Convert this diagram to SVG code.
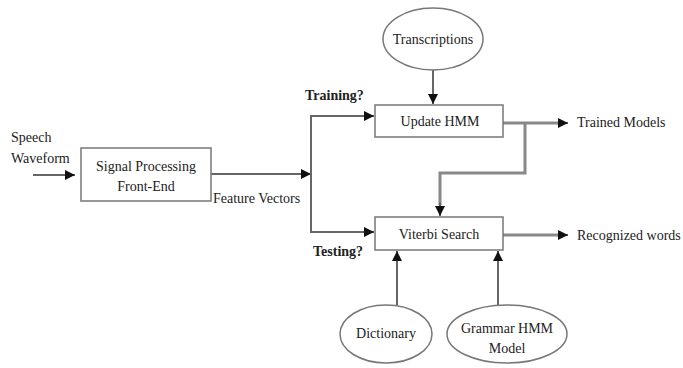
<svg xmlns="http://www.w3.org/2000/svg" width="683" height="368" viewBox="0 0 683 368">
<defs>
<style>
text{font-family:"Liberation Serif","Times New Roman",serif;font-size:14px;fill:#222}
.b{font-weight:bold}
.box{fill:#fff;stroke:#777;stroke-width:1.5}
.ln{fill:none;stroke:#666;stroke-width:2}
.thk{fill:none;stroke:#888;stroke-width:3}
</style>
<marker id="ah" viewBox="0 0 10 10" refX="10" refY="5" markerWidth="10" markerHeight="10" markerUnits="userSpaceOnUse" orient="auto"><path d="M0,0 L10,5 L0,10 z" fill="#111"/></marker>
</defs>
<rect width="683" height="368" fill="#fff"/>
<g id="connectors">
<path class="ln" d="M33,175 H75" marker-end="url(#ah)"/>
<path class="ln" d="M211,174 H311" marker-end="url(#ah)"/>
<path class="ln" d="M311,174 V116 H374" marker-end="url(#ah)"/>
<path class="ln" d="M311,174 V232 H374" marker-end="url(#ah)"/>
<path class="ln" d="M433,70 V104" marker-end="url(#ah)"/>
<path class="thk" d="M503,123 H560"/>
<path class="ln" d="M558,123 H568" marker-end="url(#ah)"/>
<path class="thk" d="M525,123 V173 H440 V205"/>
<path class="ln" d="M440,203 V216" marker-end="url(#ah)"/>
<path class="thk" d="M503,235 H560"/>
<path class="ln" d="M558,235 H568" marker-end="url(#ah)"/>
<path class="ln" d="M397,305 V251" marker-end="url(#ah)"/>
<path class="ln" d="M498,305 V251" marker-end="url(#ah)"/>
</g>
<g id="speech-input">
<text x="11" y="142">Speech</text>
<text x="11" y="163">Waveform</text>
</g>
<g id="signal-processing">
<rect class="box" x="81" y="148" width="130" height="53"/>
<text x="146" y="171" text-anchor="middle">Signal Processing</text>
<text x="146" y="191" text-anchor="middle">Front-End</text>
</g>
<g id="feature-vectors"><text x="213" y="203">Feature Vectors</text></g>
<g id="training-label"><text class="b" x="305" y="100">Training?</text></g>
<g id="testing-label"><text class="b" x="313" y="256">Testing?</text></g>
<g id="transcriptions">
<ellipse class="box" cx="433" cy="39" rx="50" ry="31"/>
<text x="433" y="44" text-anchor="middle">Transcriptions</text>
</g>
<g id="update-hmm">
<rect class="box" x="375" y="105" width="128" height="32"/>
<text x="440" y="126" text-anchor="middle">Update HMM</text>
</g>
<g id="trained-models"><text x="577" y="127">Trained Models</text></g>
<g id="viterbi-search">
<rect class="box" x="375" y="217" width="128" height="33"/>
<text x="439" y="239" text-anchor="middle">Viterbi Search</text>
</g>
<g id="recognized-words"><text x="577" y="240">Recognized words</text></g>
<g id="dictionary">
<ellipse class="box" cx="386" cy="334" rx="46" ry="29"/>
<text x="386" y="338" text-anchor="middle">Dictionary</text>
</g>
<g id="grammar-hmm">
<ellipse class="box" cx="507" cy="334" rx="60" ry="29"/>
<text x="507" y="333" text-anchor="middle">Grammar HMM</text>
<text x="507" y="353" text-anchor="middle">Model</text>
</g>
</svg>
